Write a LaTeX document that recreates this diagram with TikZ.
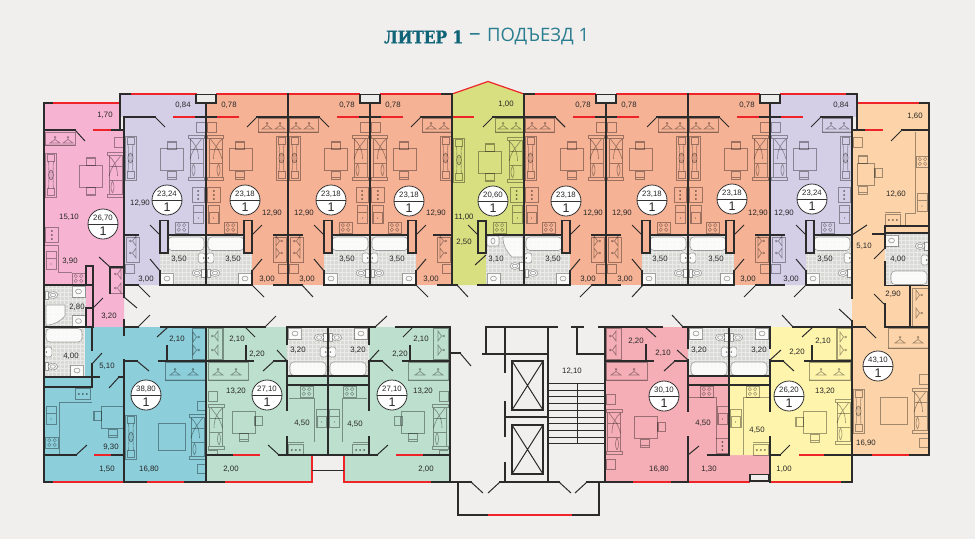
\documentclass[tikz,border=0pt]{standalone}
\usepackage{fontspec}
\setmainfont{Liberation Sans}
\newfontfamily\ttlb{DejaVu Serif}[BoldFeatures={FakeStretch=.88,FakeBold=1.2}]
\newfontfamily\ttlr{Open Sans}
\definecolor{bgc}{HTML}{F0EFED}
\definecolor{wallc}{HTML}{2B2B2B}
\definecolor{redc}{HTML}{EE2428}
\definecolor{cpink}{HTML}{F6B4D2}
\definecolor{clil}{HTML}{D4CFE7}
\definecolor{corg}{HTML}{F6B295}
\definecolor{cgrn}{HTML}{D8DF80}
\definecolor{cteal}{HTML}{8CCEDA}
\definecolor{cmint}{HTML}{BDDFCD}
\definecolor{crose}{HTML}{F5AEB6}
\definecolor{cyel}{HTML}{FEF4AC}
\definecolor{cpch}{HTML}{FDD4A9}
\definecolor{cgry}{HTML}{D9DAD6}
\definecolor{ttl}{HTML}{0F6478}
\definecolor{ttr}{HTML}{2A7D90}
\tikzset{
 x=1pt,y=-1pt,
 wall/.style={draw=wallc,line width=1.8pt,line cap=rect},
 redl/.style={draw=redc,line width=1.6pt},
 door/.style={draw=wallc,line width=1pt},
 furn/.style={draw=black,draw opacity=.36,line width=.65pt},
 whit/.style={draw=black,draw opacity=.35,fill=white,fill opacity=.85,line width=.6pt},
 lbl/.style={text=black!85,font=\fontsize{7.8}{8}\selectfont,inner sep=0pt},
 grl/.style={draw=white,draw opacity=.45,line width=.4pt},
 stairl/.style={draw=wallc,line width=1pt},
}
\newcommand\Gry[4]{\fill[cgry] (#1,#2) rectangle (#3,#4); \draw[grl,step=4pt] (#1,#2) grid (#3,#4);}
\newcommand\Ftable[2]{\draw[furn] (#1,#2) rectangle ++(23,22);}
\newcommand\Fchair[2]{\begin{scope}[shift={(#1,#2)}]\draw[furn] (0,0) rectangle (9,8); \draw[furn,line width=1pt] (.5,1.2) -- (8.5,1.2);\end{scope}}
\newcommand\FchairS[2]{\begin{scope}[shift={(#1,#2)}]\draw[furn] (0,0) rectangle (8,9); \draw[furn,line width=1pt] (1.2,.5) -- (1.2,8.5);\end{scope}}
\newcommand\Fsofa[2]{\begin{scope}[shift={(#1,#2)}]
 \draw[furn] (0,0) rectangle (16,3) (0,42) rectangle (16,45) (1.5,3) rectangle (14.5,42) (1.5,14)--(14.5,14) (1.5,28)--(14.5,28);
 \draw[furn] (3,4) .. controls (7,10) and (11,12) .. (14.5,24) (14.5,4) .. controls (10,8) and (6,14) .. (6,24) (11,29) .. controls (9,32) and (9,38) .. (11,41) (11,29) .. controls (13,32) and (13,38) .. (11,41);
 \end{scope}}
\newcommand\Ftv[2]{\begin{scope}[shift={(#1,#2)}]
 \draw[furn] (0,0) rectangle (11,44) (2,1.5) rectangle (9,8.5) (2,35.5) rectangle (9,42.5);
 \draw[furn,fill=black,fill opacity=.1] (5.5,22) ellipse (2.6 and 5);
 \draw[furn] (3,8.5) .. controls (4,14) and (2.5,18) .. (4,20) (8,8.5) .. controls (7,14) and (8.5,18) .. (7,20) (3,35.5) .. controls (4,30) and (2.5,26) .. (4,24) (8,35.5) .. controls (7,30) and (8.5,26) .. (7,24);
 \end{scope}}
\newcommand\Fhang[3]{\begin{scope}[shift={(#1,#2)},rotate=#3]
 \draw[furn,line width=.7pt] (-5,3) -- (0,-.5) -- (5,3) -- cycle (0,-.5) -- (0,-2);
 \draw[furn,line width=.7pt] (0,-2.8) circle (.8);
 \end{scope}}
\newcommand\Fcook[2]{\begin{scope}[shift={(#1,#2)}]\draw[furn] (0,0) rectangle (13,11);
 \foreach \a/\b in {3.8/3.2,9.2/3.2,3.8/7.8,9.2/7.8}{\draw[furn,line width=.5pt] (\a,\b) circle (1.7);}\end{scope}}
\newcommand\FdotsV[2]{\begin{scope}[shift={(#1,#2)}]\draw[furn] (0,0) rectangle (12.5,15);
 \foreach \b in {4,8,12}{\fill[black,opacity=.55] (6.3,\b) circle (1);}\end{scope}}
\newcommand\FdotsH[2]{\begin{scope}[shift={(#1,#2)}]\draw[furn] (0,2) rectangle (15.5,13.5); \draw[furn] (0,0)--(15.5,0);
 \foreach \a in {3.8,7.8,11.8}{\fill[black,opacity=.55] (\a,8) circle (1);}\end{scope}}
\newcommand\Fsink[2]{\begin{scope}[shift={(#1,#2)}]\draw[furn] (0,0) rectangle (10.5,18) (.5,7) rectangle (10,18);\fill[black,opacity=.5] (5,13) circle (.7);\end{scope}}
\newcommand\Fbath[2]{\draw[whit,rounded corners=4pt] (#1,#2) rectangle ++(36,13.5);}
\newcommand\Fsin[2]{\begin{scope}[shift={(#1,#2)}]\draw[whit] (0,0) rectangle (13,11); \draw[furn] (6.5,5.5) ellipse (3 and 2.4);\end{scope}}
\newcommand\Fwash[2]{\begin{scope}[shift={(#1,#2)}]\draw[whit,rounded corners=2.5pt] (0,0) rectangle (7,10); \fill[black,opacity=.6] (1.5,5) circle (.8);\end{scope}}
\newcommand\Ftoil[2]{\begin{scope}[shift={(#1,#2)}]\draw[whit] (0,0) rectangle (3.5,8); \draw[whit] (8,4) ellipse (4.8 and 3.4); \draw[furn] (8,4) ellipse (2.6 and 1.8);\end{scope}}
% upper flats -- origin on the party wall with the balcony box
\newcommand\FlatTop{%
 \draw[furn] (1,122) rectangle (10,132);
 \Fsofa{1.5}{135}
 \Ftable{23}{148}
 \Fchair{29.5}{141}
 \begin{scope}[shift={(29.5,179)},yscale=-1]\Fchair{0}{0}\end{scope}
 \Ftv{70}{136}
 \draw[wall] (0,117) -- (11,117) (51,117) -- (82,117);
 \draw[redl] (11,117) -- (33,117);
 \draw[door] (51,117) -- (41,127);
}
\newcommand\FlatHang{\draw[furn] (52,118) rectangle (81,132.5); \fill[black,opacity=.12] (52,131) rectangle (81,133); \Fhang{61}{126}{0}\Fhang{74}{126}{0}}
% upper flats lower half -- origin on the party wall at the kitchen side
\newcommand\FlatLow[1]{%
 \Gry{0}{235}{46}{285}
 \Fbath{2}{237}
 \Fsin{32.5}{273}
 \Fwash{.8}{253}
 \Ftoil{1}{269}
 \FdotsV{1.5}{187}
 \Fsink{2.5}{205}
 \Fcook{18}{222}
 \draw[furn] (67,237) rectangle (80,262) (72,264) rectangle (81,273);
 \Fhang{73}{241}{-90}\Fhang{73}{253}{-90}
 \draw[wall,fill=#1] (38,220.5) rectangle (46,253);
 \draw[wall] (0,235) -- (38,235) (46,271) -- (46,285) -- (0,285) (68,285) -- (82,285) (68,235) -- (82,235);
 \draw[door] (46,235) -- (56,225) (46,271) -- (56,259);
}
% bathroom of the lower flats, party wall at x=0
\newcommand\BathLow{%
 \Gry{0}{327}{41}{376}
 \Fbath{2}{362}
 \Fsin{26.5}{328}
 \Ftoil{.8}{333.5}
 \Fwash{.8}{347}
}
% lower flat, drawn as the left one of the two mint flats
\newcommand\MintFlat{%
 \fill[cmint] (206,327) -- (328,327) -- (328,455) -- (312,455) -- (312,482) -- (206,482) -- cycle;
 \begin{scope}[shift={(328,0)},xscale=-1]\BathLow\end{scope}
 \draw[furn] (208,328) rectangle (223,359) (222.5,328) -- (222.5,359);
 \Fhang{215}{336}{90}\Fhang{215}{350}{90}
 \draw[furn] (208,362) rectangle (248,380);\fill[black,opacity=.1] (208,378.5) rectangle (248,380.5);
 \Fhang{218}{372}{0}\Fhang{236}{372}{0}
 \Ftable{232}{411}\FchairS{254}{416}
 \begin{scope}[shift={(239,441)},yscale=-1]\Fchair{0}{0}\end{scope}
 \Fsofa{208}{404}
 \draw[furn] (208,391) rectangle (217,401) (208,450) -- (217,450) -- (217,455);
 \Fcook{300}{386}
 \draw[furn] (289,398) -- (314,398) -- (314,442);
 \Fsink{316.5}{409}
 \FdotsH{288}{442}
 \draw[wall] (206,361) -- (253,361) (246,346) -- (246,361) (274,361) -- (287,361) -- (287,410) (287,327) -- (287,344) (287,437) -- (287,455) (287,376) -- (328,376) (287,385) -- (328,385)
   (206,455) -- (233,455) (279,455) -- (328,455) (206,482) -- (225,482);
 \draw[redl] (233,455) -- (260,455) (225,482) -- (312,482) -- (312,456);
 \draw[door] (287,361) -- (277,350) (274,361) -- (263,371) (279,455) -- (268,445);
}
\newcommand\Circ[4]{\draw[draw=black!80,fill=white,line width=.8pt] (#1,#2) circle (15);
 \draw[draw=black!80,line width=.8pt] (#1-15,#2) -- (#1+15,#2);
 \node[lbl] at (#1,#2-6) {#3};
 \node[inner sep=0pt,text=black!85,font=\fontsize{12.5}{13}\selectfont] at (#1,#2+7.5) {#4};}
\newcommand\Lb[3]{\node[lbl] at (#1,#2) {#3};}
\begin{document}
\begin{tikzpicture}
\useasboundingbox (0,0) rectangle (975,539);
\fill[bgc] (0,0) rectangle (975,539);
% title
\node[anchor=west,inner sep=0pt,text=ttl,font=\ttlb\bfseries\fontsize{17.5}{18}\selectfont] at (384,37) {ЛИТЕР 1};
\node[anchor=west,inner sep=0pt,text=ttr,font=\ttlr\fontsize{23}{18}\selectfont] at (469,37) {–};
\node[anchor=west,inner sep=0pt,text=ttr,font=\ttlr\fontsize{18.5}{18}\selectfont] at (487,37) {ПОДЪЕЗД 1};
% floors
\fill[cpink] (44,103) -- (120,103) -- (120,130) -- (124,130) -- (124,327) -- (44,327) -- cycle;
\fill[clil] (120,94) -- (206,94) -- (206,285) -- (124,285) -- (124,117) -- (120,117) -- cycle;
\fill[corg] (206,94) rectangle (452,285);
\fill[cgrn] (452,94) -- (488,81.5) -- (524,94) -- (524,285) -- (452,285) -- cycle;
\fill[corg] (524,94) rectangle (770,285);
\fill[clil] (770,94) -- (857,94) -- (857,117) -- (852,117) -- (852,285) -- (770,285) -- cycle;
\fill[cpch] (857,103) -- (929,103) -- (929,455) -- (852,455) -- (852,130) -- (857,130) -- cycle;
\fill[cteal] (44,327) rectangle (206,482);
\fill[crose] (605,327) -- (688,327) -- (688,376) -- (729,376) -- (729,455) -- (770,455) -- (770,482) -- (605,482) -- cycle;
\fill[cyel] (770,327) -- (852,327) -- (852,482) -- (770,482) -- (770,455) -- (729,455) -- (729,376) -- (770,376) -- cycle;
% upper flats
\foreach \px/\py/\cc in {206/-1/clil,206/1/corg,370/-1/corg,370/1/corg,524/1/corg,688/-1/corg,688/1/corg,852/-1/clil}{
 \begin{scope}[shift={(\px,0)},xscale=\py]\FlatLow{\cc}\end{scope}}
\begin{scope}[shift={(206,0)},xscale=-1]\FlatTop\end{scope}
\foreach \px/\py in {206/1,370/-1,370/1,606/-1,606/1,770/-1,770/1}{
 \begin{scope}[shift={(\px,0)},xscale=\py]\FlatTop\FlatHang\end{scope}}
% green flat
\draw[furn] (495,118) rectangle (524,132.5);\fill[black,opacity=.12] (495,131) rectangle (524,133);
\Fhang{503}{126}{0}\Fhang{516}{126}{0}
\Ftable{478}{151}\Fchair{485}{143.5}
\begin{scope}[shift={(485,181.5)},yscale=-1]\Fchair{0}{0}\end{scope}
\begin{scope}[shift={(524,0)},xscale=-1]\Fsofa{.5}{137}\end{scope}
\Ftv{453.5}{138}
\begin{scope}[shift={(524,0)},xscale=-1]\FdotsV{1}{187}\Fsink{1.5}{205}\end{scope}
\Fcook{493}{222}
\Gry{486}{235}{524}{285}
\draw[whit] (523,237) -- (523,257) -- (512,257) .. controls (507,252) and (503,246) .. (503,237) -- cycle;
\begin{scope}[shift={(487,236)}]\draw[whit,rounded corners=2pt] (0,0) rectangle (12,10);\draw[furn] (6,5) ellipse (2 and 3);\end{scope}
\Fsin{487}{273}
\begin{scope}[shift={(524,0)},xscale=-1]\Ftoil{1}{262}\end{scope}
% pink flat
\draw[furn] (45,132) rectangle (75,145);\fill[black,opacity=.12] (45,144) rectangle (75,146);
\Fhang{55}{140}{0}\Fhang{68}{140}{0}
\Ftv{45.5}{153}\Ftable{79}{165}\Fchair{86}{157.5}
\begin{scope}[shift={(86,195.5)},yscale=-1]\Fchair{0}{0}\end{scope}
\begin{scope}[shift={(124,0)},xscale=-1]\Fsofa{.5}{152}\end{scope}
\draw[furn] (114,137) rectangle (124,147);
\FdotsV{45.5}{227}
\Fsink{46}{251}
\draw[furn] (45,245) -- (58,245) -- (58,272) -- (72,272);
\Fcook{72}{273}
\draw[furn] (110,268) rectangle (124,293);
\Fhang{118}{274}{90}\Fhang{118}{288}{90}
\Gry{44}{286}{86}{327}
\Ftoil{45}{291}\Fsin{72}{286}
\draw[whit] (46,305) -- (65,305) -- (65,316) .. controls (60,321) and (55,325) .. (46,325) -- cycle;
\Fsin{72}{315.5}
% teal flat
\begin{scope}[shift={(44,704)},yscale=-1]\BathLow\end{scope}
\fill[cteal] (85,327) rectangle (92,377);
\draw[furn] (192,328) rectangle (206,359) (192,328) -- (192,359);
\Fhang{196}{337}{-90}\Fhang{196}{350}{-90}
\draw[furn] (165,362) rectangle (206,380);\fill[black,opacity=.1] (165,378.5) rectangle (206,380.5);
\Fhang{175}{372}{0}\Fhang{193}{372}{0}
\Ftable{101}{406}\FchairS{93}{411}
\begin{scope}[shift={(108.5,437)},yscale=-1]\Fchair{0}{0}\end{scope}
\draw[furn,line width=.9pt] (158,423) rectangle (185,450);
\Ftv{125.5}{415}
\begin{scope}[shift={(206,0)},xscale=-1]\Fsofa{.5}{414}\end{scope}
\draw[furn] (197,401) rectangle (206,410) (197,464) rectangle (206,473);
\begin{scope}[shift={(74,386)}]\FdotsH{1}{0}\end{scope}
\draw[furn] (59,402) -- (92,402) (59,402) -- (59,455);
\Fsink{46}{406}\Fcook{45.5}{437}
% lower pink and yellow flats
\begin{scope}[shift={(729,0)},xscale=-1]\BathLow\end{scope}
\begin{scope}[shift={(729,0)}]\BathLow\end{scope}
% rose
\draw[furn] (606,328) rectangle (621,359);
\Fhang{613}{336}{90}\Fhang{613}{350}{90}
\draw[furn] (606,362) rectangle (647,380);\fill[black,opacity=.1] (606,378.5) rectangle (647,380.5);
\Fhang{616}{372}{0}\Fhang{634}{372}{0}
\Fsofa{606}{409}
\draw[furn] (606,394) rectangle (615,404) (606,459) rectangle (615,469);
\Ftable{634}{416.5}\FchairS{657}{422}
\begin{scope}[shift={(640,447)},yscale=-1]\Fchair{0}{0}\end{scope}
\Fcook{700}{386}
\draw[furn] (689,397) -- (716,397) -- (716,439);
\Fsink{717.5}{406}
\FdotsV{716}{438}
% yellow
\Fcook{746}{386}
\draw[furn] (743,397) -- (769,397) (743,397) -- (743,455);
\Fsink{730.5}{409}
\FdotsH{753}{442}
\Ftable{803}{411.5}\FchairS{795}{417}
\begin{scope}[shift={(810,442)},yscale=-1]\Fchair{0}{0}\end{scope}
\begin{scope}[shift={(852,0)},xscale=-1]\Fsofa{.5}{399}\end{scope}
\draw[furn] (836,328) rectangle (851,359) (837,328) -- (837,359);
\Fhang{843}{337}{-90}\Fhang{843}{350}{-90}
\draw[furn] (809,362) rectangle (850,380);\fill[black,opacity=.1] (809,378.5) rectangle (850,380.5);
\Fhang{821}{372}{0}\Fhang{839}{372}{0}
% peach flat
\begin{scope}[shift={(929,-92)},xscale=-1]\Gry{0}{325}{44}{377}\Fbath{2}{363}\Fsin{31}{327}\Ftoil{.8}{334}\Fwash{.8}{347}\end{scope}
\draw[furn] (853,137) rectangle (862,147);
\draw[furn] (857,163) rectangle (874,185);
\Fchair{858}{155}
\begin{scope}[shift={(858,194)},yscale=-1]\Fchair{0}{0}\end{scope}
\FchairS{874}{168.5}
\draw[furn] (915,132) -- (915,213) -- (905,213) -- (905,226);
\Fcook{916}{156}\Fsink{917}{193}
\FdotsH{885}{212}
\draw[furn] (912,288) rectangle (928,327);
\Fhang{919}{295}{-90}\Fhang{919}{313}{-90}
\draw[furn] (888,328) rectangle (928,348);\fill[black,opacity=.1] (888,346.5) rectangle (928,348.5);
\Fhang{900}{340}{0}\Fhang{918}{340}{0}
\draw[furn,line width=.9pt] (880,397) rectangle (907,424);
\Ftv{853}{389}
\begin{scope}[shift={(929,0)},xscale=-1]\Fsofa{.5}{388}\end{scope}
\draw[furn] (919,374) rectangle (928,384) (919,438) rectangle (928,447);
% mint flats
\MintFlat
\begin{scope}[shift={(656,0)},xscale=-1]\MintFlat\end{scope}
% ------ walls
\draw[redl] (52,103) -- (120,103) (93,130) -- (112,130) (130,94) -- (197,94) (216,94) -- (360,94) (380,94) -- (442,94) (534,94) -- (596,94) (616,94) -- (760,94) (780,94) -- (847,94) (858,103) -- (920,103) (864,130) -- (883,130) (452,117) -- (474,117);
\draw[redc,line width=1.2pt] (452,94) -- (488,81.5) -- (524,94);
\draw[redl] (94,455) -- (112,455) (52,482) -- (124,482) (146,482) -- (185,482)
  (632,482) -- (672,482) (688,482) -- (750,482) (770,482) -- (842,482) (799,455) -- (825,455) (871,455) -- (910,455) (487,515) -- (573,515);
\draw[wall] (44,103) -- (52,103) (44,103) -- (44,482) -- (52,482) (44,130) -- (75,130) (112,130) -- (124,130)
 (120,94) -- (130,94) (120,94) -- (120,130)
 (124,117) -- (124,297) (124,320) -- (124,335) (124,360) -- (124,482)
 (206,103) -- (206,285) (370,103) -- (370,285) (606,103) -- (606,285) (770,103) -- (770,285)
 (288,94) -- (288,285) (452,94) -- (452,285) (524,94) -- (524,285) (688,94) -- (688,285)
 (442,94) -- (452,94) (524,94) -- (534,94) (847,94) -- (857,94) -- (857,130)
 (493,117) -- (555,117)
 (452,285) -- (457,285)
 (478,285) -- (524,285) (486,235) -- (524,235) (434,235) -- (452,235) 
 (852,117) -- (852,298) (852,321) -- (852,482) (852,130) -- (864,130) (902,130) -- (929,130) (920,103) -- (929,103) (929,103) -- (929,455)
 (885,226) -- (929,226) (885,233) -- (929,233) (873,234) -- (885,234) (885,226) -- (885,248) (885,262) -- (885,285.5) (885,304) -- (885,327) (885,285.5) -- (929,285.5)
 (910,285.5) -- (910,327) (852,327) -- (865,327) (885,327) -- (929,327) ;
\draw[wall,fill=cgrn] (478,221) rectangle (486,253);
\foreach \bx in {206,370,606,770}{\draw[wall,fill=cgry!50] (\bx-10,94.5) rectangle (\bx+10,102.7);}
% pink walls
\draw[wall,fill=cpink] (86,285) -- (86,266) -- (93,266) -- (93,285);
\draw[wall] (44,285) -- (93,285) (110,267) -- (124,267) (110,267) -- (110,293) (93,285) -- (93,327) (93,308) -- (86,308) -- (86,327) (44,327) -- (93,327);
% teal walls
\draw[wall] (92,327) -- (92,350) (92,364) -- (92,387) (44,377) -- (99,377) (44,387) -- (92,387) (119,377) -- (124,377)
 (124,327) -- (138,327) (161,327) -- (206,327) (124,361) -- (137,361) (159,361) -- (206,361) (167,346) -- (167,361)
 (44,455) -- (76,455) (112,455) -- (124,455) (44,482) -- (52,482) (124,482) -- (146,482) (185,482) -- (206,482) (206,327) -- (206,482);
% mint top
\draw[wall] (206,327) -- (265,327) (287,327) -- (375,327) (396,327) -- (450,327) (328,327) -- (328,455) (369,327) -- (369,344);
\draw[wallc,line width=1pt] (312,470) -- (344,470);
% core
\draw[wall] (450,327) -- (450,482) (450,353) -- (460,353) (486,327) -- (557,327) (572,327) -- (583,327) (599,327) -- (605,327)
 (486,327) -- (486,354) (483,354) -- (548,354) (577,354) -- (605,354) (505,327) -- (505,372) (548,327) -- (548,482) (577,327) -- (577,354) (605,327) -- (605,482)
 (505,402) -- (505,436) (505,417) -- (548,417) (505,463) -- (505,482)
 (450,482) -- (471,482) (500,482) -- (559,482) (587,482) -- (605,482)
 (458,482) -- (458,515) -- (487,515) (573,515) -- (599,515) -- (599,482);
\draw[stairl,line width=1.4pt] (512,361) rectangle (543,410) (512,425) rectangle (543,474);
\draw[stairl] (512,361) -- (543,410) (543,361) -- (512,410) (512,425) -- (543,474) (543,425) -- (512,474);
\foreach \sy in {383,390,396,403,410,417,423,430,437,443}{\draw[stairl] (549,\sy) -- (604,\sy);}
\draw[stairl] (577,383) -- (577,443);
% rose & yellow walls
\draw[wall] (605,361) -- (653,361) (646,345) -- (646,361) (605,327) -- (662,327) (683,327) -- (770,327) (793,327) -- (852,327)
 (688,327) -- (688,348) (688,360) -- (688,411) (688,437) -- (688,482) (675,361) -- (688,361) (708,455) -- (729,455) (729,327) -- (729,455)
 (688,376) -- (770,376) (688,385) -- (770,385)
 (605,482) -- (632,482) (672,482) -- (688,482) (842,482) -- (852,482)
 (770,327) -- (770,348) (770,360) -- (770,411) (770,437) -- (770,482) (770,361) -- (783,361) (805,361) -- (852,361) (812,346) -- (812,361)
 (770,455) -- (780,455) (825,455) -- (871,455) (910,455) -- (929,455);
\draw[wall,fill=bgc] (750,474.5) rectangle (769,481);
% doors
\draw[door] (85,141) -- (75,130) (138,285) -- (150,297) (252,285) -- (264,297) (302,285) -- (313,297) (416,285) -- (428,297)
 (457,285) -- (468,297) (592,285) -- (580,297) (643,285) -- (632,297) (756,285) -- (744,297) (806,285) -- (794,297)
 (493,117) -- (483,127) (555,117) -- (565,127) (478,235) -- (468,225) (486,255) -- (475,265)
 (99,257) -- (110,267) (93,308) -- (103,298) (124,297) -- (137,308) (143,290) -- (150,297)
 (138,327) -- (150,315) (168,327) -- (157,337) (92,364) -- (102,353) (109,388) -- (119,377) (137,361) -- (149,371) (76,455) -- (87,445)
 (265,327) -- (276,316) (245,327) -- (255,337) (375,327) -- (387,316) (413,327) -- (403,337)
 (460,353) -- (471,366) (471,482) -- (483,493) (500,482) -- (488,493) (559,482) -- (571,493) (587,482) -- (575,493)
 (645,327) -- (656,337) (672,315) -- (683,327) (782,315) -- (793,327) (813,327) -- (802,337)
 (677,350) -- (688,360) (675,361) -- (664,371) (688,455) -- (699,446)
 (770,360) -- (781,350) (783,361) -- (794,371) (780,455) -- (790,445)
 (839,309) -- (852,321) (865,327) -- (876,338) (874,294) -- (884,304)
 (852,235) -- (867,225) (885,248) -- (874,259) (902,130) -- (891,141);
% circles
\Circ{103}{224}{26,70}{1}
\Circ{167}{200}{23,24}{1}
\Circ{245}{200}{23,18}{1}
\Circ{331}{200}{23,18}{1}
\Circ{409}{201}{23,18}{1}
\Circ{493}{201}{20,60}{1}
\Circ{566}{201}{23,18}{1}
\Circ{652}{200}{23,18}{1}
\Circ{732}{199}{23,18}{1}
\Circ{812}{199}{23,24}{1}
\Circ{146}{395}{38,80}{1}
\Circ{267}{395}{27,10}{1}
\Circ{392}{395}{27,10}{1}
\Circ{664}{396}{30,10}{1}
\Circ{789}{396}{26,20}{1}
\Circ{878}{366}{43,10}{1}
% labels
\Lb{105}{115}{1,70}\Lb{69}{217}{15,10}\Lb{70}{261}{3,90}\Lb{77}{307}{2,80}\Lb{109}{316}{3,20}
\Lb{183}{105}{0,84}\Lb{229}{105}{0,78}\Lb{347}{105}{0,78}\Lb{393}{105}{0,78}\Lb{506}{104}{1,00}
\Lb{583}{105}{0,78}\Lb{629}{105}{0,78}\Lb{747}{105}{0,78}\Lb{841}{105}{0,84}\Lb{915}{116}{1,60}
\Lb{140}{203}{12,90}\Lb{272}{213}{12,90}\Lb{304}{213}{12,90}\Lb{436}{213}{12,90}
\Lb{593}{213}{12,90}\Lb{622}{213}{12,90}\Lb{758}{213}{12,90}\Lb{784}{213}{12,90}
\Lb{179}{259}{3,50}\Lb{233}{259}{3,50}\Lb{347}{259}{3,50}\Lb{397}{259}{3,50}\Lb{553}{259}{3,50}\Lb{660}{259}{3,50}\Lb{716}{259}{3,50}\Lb{825}{259}{3,50}
\Lb{496}{259}{3,10}\Lb{464}{217}{11,00}\Lb{464}{242}{2,50}
\Lb{146}{279}{3,00}\Lb{267}{279}{3,00}\Lb{307}{279}{3,00}\Lb{431}{279}{3,00}\Lb{588}{279}{3,00}\Lb{625}{279}{3,00}\Lb{748}{279}{3,00}\Lb{791}{279}{3,00}
\Lb{71}{356}{4,00}\Lb{107}{366}{5,10}\Lb{177}{339}{2,10}\Lb{111}{447}{9,30}\Lb{107}{469}{1,50}\Lb{149}{469}{16,80}
\Lb{237}{339}{2,10}\Lb{257}{354}{2,20}\Lb{298}{350}{3,20}\Lb{236}{391}{13,20}\Lb{302}{423}{4,50}\Lb{231}{469}{2,00}
\Lb{358}{350}{3,20}\Lb{400}{354}{2,20}\Lb{421}{339}{2,10}\Lb{423}{391}{13,20}\Lb{355}{424}{4,50}\Lb{426}{469}{2,00}
\Lb{572}{371}{12,10}
\Lb{636}{341}{2,20}\Lb{663}{353}{2,10}\Lb{699}{350}{3,20}\Lb{703}{423}{4,50}\Lb{659}{469}{16,80}\Lb{709}{469}{1,30}
\Lb{759}{350}{3,20}\Lb{797}{352}{2,20}\Lb{823}{341}{2,10}\Lb{825}{391}{13,20}\Lb{757}{430}{4,50}\Lb{784}{469}{1,00}
\Lb{866}{443}{16,90}\Lb{893}{294}{2,90}\Lb{864}{246}{5,10}\Lb{898}{259}{4,00}\Lb{896}{194}{12,60}
\end{tikzpicture}
\end{document}
